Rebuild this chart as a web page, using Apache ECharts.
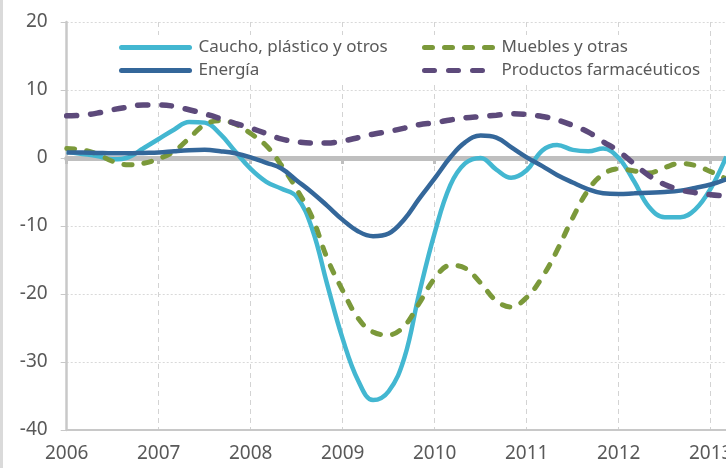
<!DOCTYPE html>
<html>
<head>
<meta charset="utf-8">
<script src="https://cdn.jsdelivr.net/npm/echarts@6/dist/echarts.min.js"></script>
<style>
  html, body { margin: 0; padding: 0; background: #fff; }
  #main { width: 726px; height: 468px; }
</style>
</head>
<body>
<div id="main"></div>
<script>
// meses (cada dos meses, eje x)
var periodos = [2006, 2006.17, 2006.33, 2006.5, 2006.67, 2006.83,
                2007, 2007.17, 2007.33, 2007.5, 2007.67, 2007.83,
                2008, 2008.17, 2008.33, 2008.5, 2008.67, 2008.83,
                2009, 2009.17, 2009.33, 2009.5, 2009.67, 2009.83,
                2010, 2010.17, 2010.33, 2010.5, 2010.67, 2010.83,
                2011, 2011.17, 2011.33, 2011.5, 2011.67, 2011.83,
                2012, 2012.17, 2012.33, 2012.5, 2012.67, 2012.83,
                2013, 2013.17];

var caucho = [0.9, 0.6, 0.3, -0.2, 0.1, 1.4,
              2.8, 4.2, 5.3, 5.2, 3.5, 1.0,
              -1.6, -3.5, -4.5, -5.7, -10.5, -18.5,
              -26.6, -32.8, -35.6, -34.3, -29.4, -20,
              -11, -4, -0.8, 0, -1.7, -2.9,
              -1.8, 1.1, 1.9, 1.2, 1.0, 1.4,
              0, -3.5, -7.2, -8.7, -8.7, -7.6,
              -4.5, 0.2];

var muebles = [1.4, 1.2, 0.6, -0.5, -1.0, -0.8,
               -0.1, 1.0, 2.9, 4.9, 5.5, 5.0,
               3.6, 1.8, -1.0, -4.6, -8.8, -14.7,
               -19.5, -23.6, -25.6, -26.0, -24.7, -21.4,
               -17.7, -15.8, -16.2, -18.4, -21.0, -21.9,
               -20.5, -17.5, -13.6, -8.8, -4.7, -2.4,
               -1.6, -1.9, -2.2, -1.4, -0.8, -1.1,
               -2.0, -3.1];

var energia = [0.8, 0.8, 0.75, 0.7, 0.7, 0.75,
               0.8, 1.0, 1.15, 1.2, 1.0, 0.7,
               0.1, -0.7, -1.5, -3.3, -5.1, -7.0,
               -9.1, -10.8, -11.5, -11.1, -9.0, -6.0,
               -3.0, 0.1, 2.3, 3.3, 3.0, 1.6,
               0.1, -1.2, -2.5, -3.6, -4.6, -5.2,
               -5.3, -5.2, -5.1, -5.0, -4.8, -4.4,
               -3.9, -3.1];

var farma = [6.2, 6.3, 6.6, 7.1, 7.5, 7.8,
             7.8, 7.6, 7.1, 6.5, 5.8, 5.1,
             4.4, 3.6, 2.8, 2.4, 2.2, 2.2,
             2.5, 3.0, 3.5, 3.9, 4.4, 4.9,
             5.2, 5.6, 5.9, 6.1, 6.3, 6.5,
             6.4, 6.1, 5.6, 4.8, 3.8, 2.4,
             1.0, -0.9, -2.6, -3.9, -4.7, -5.1,
             -5.4, -5.6];

var names = ['Caucho, plástico y otros', 'Muebles y otras', 'Energía', 'Productos farmacéuticos'];

function pares(vals) {
    return periodos.map(function (p, i) { return [p, vals[i]]; });
}

var myChart = echarts.init(document.getElementById('main'));
var fuente = '"Noto Sans", "Open Sans", sans-serif';
var gris = '#595959';

var option = {
    animation: false,
    textStyle: { fontFamily: fuente },
    graphic: [{
        type: 'rect',
        shape: { x: 0, y: 0, width: 3, height: 468 },
        style: { fill: '#dadada' },
        z: 0
    }],
    grid: { left: 66.7, top: 22, width: 736, height: 408, outerBoundsMode: 'none' },
    legend: [{
        orient: 'vertical',
        left: 114, top: 35,
        padding: [4, 5, 4, 5],
        backgroundColor: '#fff',
        itemWidth: 68, itemHeight: 14, itemGap: 6,
        itemStyle: { opacity: 0 },
        lineStyle: { width: 5, cap: 'round' },
        textStyle: { fontSize: 17, color: gris, fontFamily: fuente, padding: [0, 0, 0, 4] },
        data: [names[0], names[2]]
    }, {
        orient: 'vertical',
        left: 417, top: 35,
        padding: [4, 5, 4, 5],
        backgroundColor: '#fff',
        itemWidth: 68, itemHeight: 14, itemGap: 6,
        itemStyle: { opacity: 0 },
        lineStyle: { width: 5, cap: 'round' },
        textStyle: { fontSize: 17, color: gris, fontFamily: fuente, padding: [0, 0, 0, 4] },
        data: [names[1], names[3]]
    }],
    xAxis: [{
        type: 'value',
        min: 2006, max: 2014, interval: 1,
        position: 'bottom',
        axisLine: { onZero: false, lineStyle: { color: '#c8c8c8', width: 2 } },
        axisTick: { show: false },
        axisLabel: {
            fontSize: 19, color: gris, margin: 14, fontFamily: fuente,
            formatter: function (v) { return String(v); }
        },
        splitLine: { show: true, lineStyle: { color: '#d3d3d3', type: [5, 4], width: 1 } }
    }, {
        // eje en el cero
        type: 'value',
        min: 2006, max: 2014, interval: 1,
        position: 'top',
        axisLine: { onZero: true, lineStyle: { color: '#bfbfbf', width: 5 } },
        axisTick: { show: true, inside: true, length: 6, lineStyle: { color: '#bfbfbf', width: 3 } },
        axisLabel: { show: false },
        splitLine: { show: false }
    }],
    yAxis: {
        type: 'value',
        min: -40, max: 20, interval: 10,
        axisLine: { show: true, lineStyle: { color: '#c8c8c8', width: 2.5 } },
        axisTick: { show: true, length: 6, lineStyle: { color: '#c8c8c8', width: 1 } },
        axisLabel: { fontSize: 19, color: gris, margin: 19, fontFamily: fuente },
        splitLine: { show: true, lineStyle: { color: '#d9d9d9', type: [2, 2], width: 1 } }
    },
    series: [{
        name: names[0], type: 'line', smooth: 0.4, symbol: 'none',
        data: pares(caucho),
        lineStyle: { color: '#43b7d1', width: 4.5 },
        itemStyle: { color: '#43b7d1' }
    }, {
        name: names[1], type: 'line', smooth: 0.4, symbol: 'none',
        data: pares(muebles),
        lineStyle: { color: '#7b993a', width: 5, type: [8, 12], cap: 'round' },
        itemStyle: { color: '#7b993a' }
    }, {
        name: names[2], type: 'line', smooth: 0.4, symbol: 'none',
        data: pares(energia),
        lineStyle: { color: '#34679a', width: 4.5 },
        itemStyle: { color: '#34679a' }
    }, {
        name: names[3], type: 'line', smooth: 0.4, symbol: 'none',
        data: pares(farma),
        lineStyle: { color: '#5d4a7b', width: 5.5, type: [10, 14], cap: 'round' },
        itemStyle: { color: '#5d4a7b' }
    }]
};

myChart.setOption(option);
</script>
</body>
</html>
